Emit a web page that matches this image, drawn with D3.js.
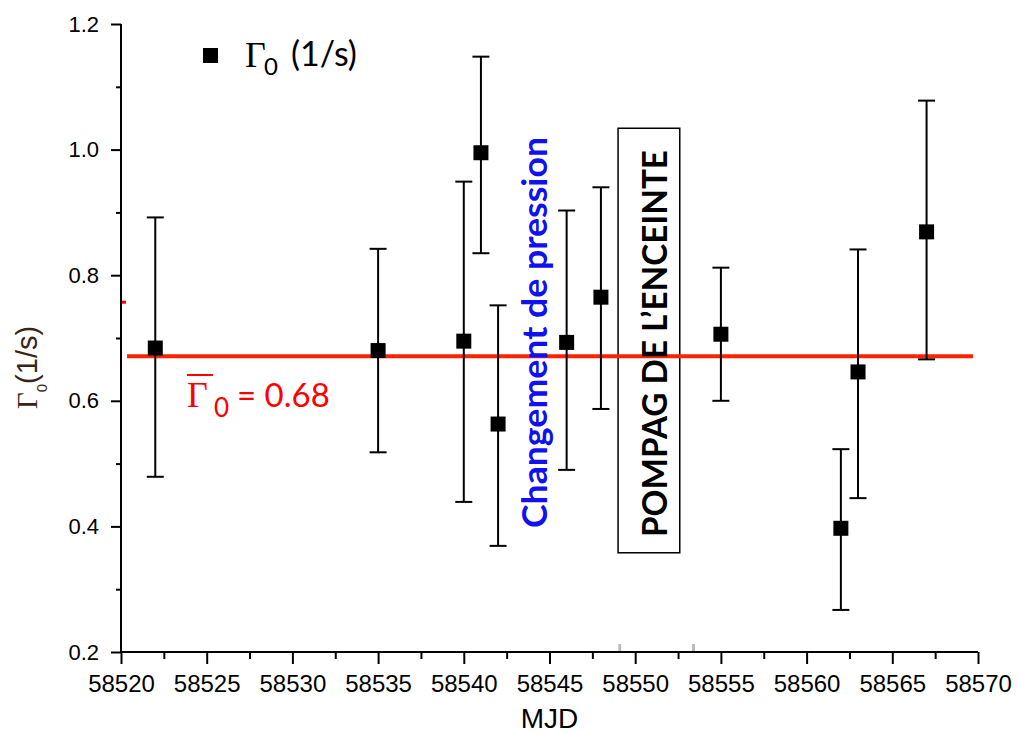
<!DOCTYPE html>
<html>
<head>
<meta charset="utf-8">
<script src="https://cdn.jsdelivr.net/npm/d3@7"></script>
<style>
  html, body { margin: 0; padding: 0; background: #fff; }
  svg { display: block; }
</style>
</head>
<body>
<svg id="chart" width="1019" height="733"></svg>
<script>
// ---- data ----
const mjd      = [58522, 58535, 58540, 58541, 58542, 58546, 58548, 58555, 58562, 58563, 58567];
const gamma0   = [0.684, 0.680, 0.695, 0.995, 0.563, 0.693, 0.765, 0.706, 0.397, 0.646, 0.869];
const errLow   = [0.479, 0.518, 0.439, 0.835, 0.369, 0.490, 0.587, 0.600, 0.267, 0.445, 0.666];
const errHigh  = [0.892, 0.842, 0.949, 1.148, 0.752, 0.903, 0.940, 0.812, 0.523, 0.841, 1.078];
const meanGamma = 0.671;
const meanLabel = "= 0.68";
const xMajorTicks = [58520, 58525, 58530, 58535, 58540, 58545, 58550, 58555, 58560, 58565, 58570];
const xMinorTicks = [58522.5, 58527.5, 58532.5, 58537.5, 58542.5, 58547.5, 58552.5, 58557.5, 58562.5, 58567.5];
const yMajorTicks = [0.2, 0.4, 0.6, 0.8, 1.0, 1.2];
const yMinorTicks = [0.3, 0.5, 0.7, 0.9, 1.1];
const grayMarks = [58549.1, 58553.4];
const redMark = 0.757;
const annotBlue = "Changement de pression";
const annotBox = "POMPAG DE L\u2019ENCEINTE";
const boxRange = [58549.0, 58552.6];
const boxYRange = [0.358, 1.034];

// ---- layout ----
const W = 1019, H = 733;
const m = {left: 121, top: 24, right: 41, bottom: 81};
const svg = d3.select("#chart");
const x = d3.scaleLinear().domain([58520, 58570]).range([m.left, W - m.right]);
const y = d3.scaleLinear().domain([0.2, 1.2]).range([H - m.bottom, m.top]);
const sans = "'Liberation Sans', Arial, sans-serif";
const cal = "Lato, 'Open Sans', sans-serif";
const serif = "'Liberation Serif', 'Times New Roman', serif";

// ---- axes ----
const gx = svg.append("g").attr("transform", `translate(0,${H - m.bottom})`);
gx.call(d3.axisBottom(x).tickValues(xMajorTicks).tickFormat(d3.format("d")).tickSize(12).tickPadding(11));
gx.append("g").call(d3.axisBottom(x).tickValues(xMinorTicks).tickFormat("").tickSize(7))
  .select(".domain").remove();
gx.selectAll("path.domain").attr("stroke-width", 2).attr("d", `M${m.left},0H${W - m.right}`);
gx.selectAll(".tick line").attr("stroke-width", 2);
gx.selectAll(".tick text").attr("font-family", sans).attr("font-size", 24).attr("fill", "#000");

const gy = svg.append("g").attr("transform", `translate(${m.left},0)`);
gy.call(d3.axisLeft(y).tickValues(yMajorTicks).tickFormat(d3.format(".1f")).tickSize(10).tickPadding(12));
gy.append("g").call(d3.axisLeft(y).tickValues(yMinorTicks).tickFormat("").tickSize(5))
  .select(".domain").remove();
gy.selectAll("path.domain").attr("stroke-width", 2).attr("d", `M0,${m.top}V${H - m.bottom}`);
gy.selectAll(".tick line").attr("stroke-width", 2);
gy.selectAll(".tick text").attr("font-family", sans).attr("font-size", 22).attr("fill", "#000");

// gray marks on x axis
svg.selectAll("line.gray").data(grayMarks).join("line")
  .attr("x1", d => x(d)).attr("x2", d => x(d))
  .attr("y1", H - m.bottom - 8).attr("y2", H - m.bottom - 1)
  .attr("stroke", "#bbb").attr("stroke-width", 3);

// small red mark at left
svg.append("rect").attr("x", m.left + 1).attr("y", y(redMark) - 1.5)
  .attr("width", 4).attr("height", 3).attr("fill", "#ff0000");

// axis titles
svg.append("text").attr("x", (m.left + W - m.right) / 2).attr("y", 728)
  .attr("text-anchor", "middle").attr("font-family", sans).attr("font-size", 28)
  .attr("fill", "#000").text("MJD");

const yl = svg.append("text").attr("transform", "translate(37,409) rotate(-90)")
  .attr("fill", "#3a2414").attr("font-family", sans).attr("font-size", 29);
yl.append("tspan").attr("font-family", serif).attr("font-size", 29).text("\u0393");
yl.append("tspan").attr("font-size", 15).attr("dy", 10).text("0");
yl.append("tspan").attr("dy", -10).text("(1/s)");

// ---- annotation box ----
svg.append("rect").attr("x", x(boxRange[0])).attr("y", y(boxYRange[1]))
  .attr("width", x(boxRange[1]) - x(boxRange[0])).attr("height", y(boxYRange[0]) - y(boxYRange[1]))
  .attr("fill", "none").attr("stroke", "#000").attr("stroke-width", 1.5);

// ---- mean line ----
svg.append("line").attr("x1", m.left + 6).attr("x2", W - m.right - 5)
  .attr("y1", y(meanGamma)).attr("y2", y(meanGamma))
  .attr("stroke", "#ff2200").attr("stroke-width", 4);

// mean label
const ml = svg.append("g");
ml.append("text").attr("x", 187).attr("y", 407).attr("font-family", serif).attr("font-size", 36)
  .attr("fill", "#ff0000").text("\u0393");
ml.append("line").attr("x1", 187).attr("x2", 213).attr("y1", 375).attr("y2", 375)
  .attr("stroke", "#ff0000").attr("stroke-width", 2);
ml.append("text").attr("x", 214).attr("y", 417).attr("font-family", cal).attr("font-size", 26)
  .attr("fill", "#ff0000").text("0");
ml.append("text").attr("x", 237).attr("y", 407).attr("font-family", cal).attr("font-size", 33)
  .attr("fill", "#ff0000").text(meanLabel);

// ---- annotation texts ----
svg.append("text").attr("transform", `translate(547,${(137 + 528) / 2}) rotate(-90)`)
  .attr("text-anchor", "middle").attr("font-family", cal).attr("font-weight", "bold")
  .attr("font-size", 34).attr("fill", "#1010f0")
  .attr("textLength", 391).attr("lengthAdjust", "spacingAndGlyphs").text(annotBlue);

svg.append("text").attr("transform", `translate(667,${(150 + 537) / 2}) rotate(-90)`)
  .attr("text-anchor", "middle").attr("font-family", cal).attr("font-weight", "bold")
  .attr("font-size", 35).attr("fill", "#000")
  .attr("textLength", 387).attr("lengthAdjust", "spacingAndGlyphs").text(annotBox);

// ---- error bars & points ----
const idx = d3.range(mjd.length);
const cap = 8.5;
const eb = svg.append("g").attr("stroke", "#000").attr("stroke-width", 2);
eb.selectAll("line.v").data(idx).join("line")
  .attr("x1", i => x(mjd[i])).attr("x2", i => x(mjd[i]))
  .attr("y1", i => y(errLow[i])).attr("y2", i => y(errHigh[i]));
eb.selectAll("line.t").data(idx).join("line")
  .attr("x1", i => x(mjd[i]) - cap).attr("x2", i => x(mjd[i]) + cap)
  .attr("y1", i => y(errHigh[i])).attr("y2", i => y(errHigh[i]));
eb.selectAll("line.b").data(idx).join("line")
  .attr("x1", i => x(mjd[i]) - cap).attr("x2", i => x(mjd[i]) + cap)
  .attr("y1", i => y(errLow[i])).attr("y2", i => y(errLow[i]));

const sq = 15;
svg.append("g").selectAll("rect").data(idx).join("rect")
  .attr("x", i => x(mjd[i]) - sq / 2).attr("y", i => y(gamma0[i]) - sq / 2)
  .attr("width", sq).attr("height", sq).attr("fill", "#000");

// ---- legend ----
const lg = svg.append("g");
lg.append("rect").attr("x", 203).attr("y", 48).attr("width", sq).attr("height", sq).attr("fill", "#000");
lg.append("text").attr("x", 245).attr("y", 67).attr("font-family", serif).attr("font-size", 36)
  .attr("fill", "#000").text("\u0393");
lg.append("text").attr("x", 264).attr("y", 75).attr("font-family", cal).attr("font-size", 24)
  .attr("fill", "#000").text("0");
lg.append("text").attr("x", 291).attr("y", 66).attr("font-family", cal).attr("font-size", 34)
  .attr("fill", "#000").text("(1/s)");
</script>
</body>
</html>
